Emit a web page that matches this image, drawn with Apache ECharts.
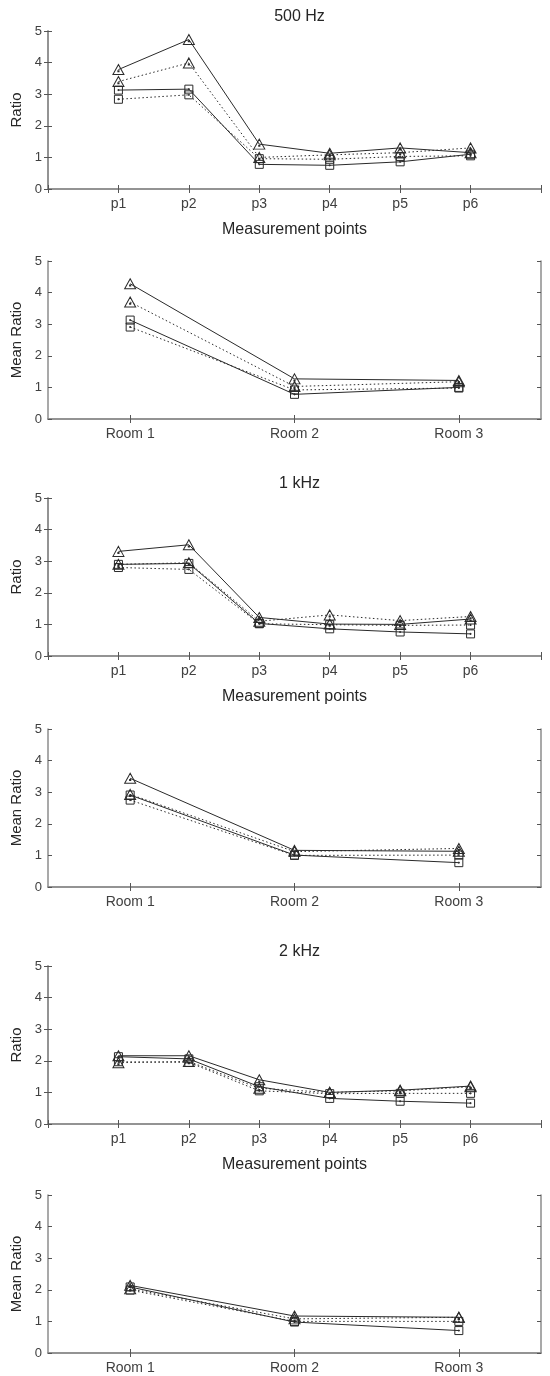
<!DOCTYPE html>
<html>
<head>
<meta charset="utf-8">
<script src="https://cdn.jsdelivr.net/npm/echarts@6/dist/echarts.min.js"></script>
<style>
html,body{margin:0;padding:0;background:#fff;}
#chart{width:550px;height:1376px;}
</style>
</head>
<body>
<div id="chart"></div>
<script>
// ---- categories / tick labels ----
const pLabels = ['p1', 'p2', 'p3', 'p4', 'p5', 'p6'];
const roomLabels = ['Room 1', 'Room 2', 'Room 3'];
const panelTitles = ['500 Hz', '', '1 kHz', '', '2 kHz', ''];

// ---- 500 Hz: ratio per measurement point ----
const hz500_solidTri = [3.78, 4.73, 1.42, 1.13, 1.30, 1.15];
const hz500_dotTri   = [3.40, 3.99, 1.00, 1.08, 1.15, 1.30];
const hz500_solidSq  = [3.13, 3.16, 0.78, 0.75, 0.86, 1.10];
const hz500_dotSq    = [2.84, 2.98, 0.96, 0.94, 1.03, 1.05];
// ---- 500 Hz: mean ratio per room ----
const hz500m_solidTri = [4.28, 1.27, 1.22];
const hz500m_dotTri   = [3.70, 1.03, 1.18];
const hz500m_solidSq  = [3.13, 0.78, 1.00];
const hz500m_dotSq    = [2.91, 0.92, 0.98];

// ---- 1 kHz ----
const k1_solidTri = [3.31, 3.52, 1.22, 1.01, 1.00, 1.17];
const k1_dotTri   = [2.90, 2.95, 1.10, 1.30, 1.12, 1.25];
const k1_solidSq  = [2.90, 2.93, 1.03, 0.86, 0.76, 0.70];
const k1_dotSq    = [2.80, 2.74, 1.02, 0.99, 0.97, 0.98];
const k1m_solidTri = [3.44, 1.16, 1.13];
const k1m_dotTri   = [2.93, 1.12, 1.22];
const k1m_solidSq  = [2.91, 1.01, 0.77];
const k1m_dotSq    = [2.75, 1.00, 1.01];

// ---- 2 kHz ----
const k2_solidTri = [2.16, 2.16, 1.40, 1.00, 1.07, 1.20];
const k2_dotTri   = [1.94, 1.98, 1.13, 1.00, 1.05, 1.18];
const k2_solidSq  = [2.13, 2.06, 1.18, 0.81, 0.72, 0.66];
const k2_dotSq    = [1.97, 1.95, 1.05, 0.96, 0.97, 0.97];
const k2m_solidTri = [2.14, 1.17, 1.13];
const k2m_dotTri   = [2.03, 1.08, 1.13];
const k2m_solidSq  = [2.09, 0.98, 0.71];
const k2m_dotSq    = [1.99, 1.00, 1.00];

const panels = [
  {kind: 'p',    yName: 'Ratio',      sets: [hz500_solidTri, hz500_dotTri, hz500_solidSq, hz500_dotSq]},
  {kind: 'room', yName: 'Mean Ratio', sets: [hz500m_solidTri, hz500m_dotTri, hz500m_solidSq, hz500m_dotSq]},
  {kind: 'p',    yName: 'Ratio',      sets: [k1_solidTri, k1_dotTri, k1_solidSq, k1_dotSq]},
  {kind: 'room', yName: 'Mean Ratio', sets: [k1m_solidTri, k1m_dotTri, k1m_solidSq, k1m_dotSq]},
  {kind: 'p',    yName: 'Ratio',      sets: [k2_solidTri, k2_dotTri, k2_solidSq, k2_dotSq]},
  {kind: 'room', yName: 'Mean Ratio', sets: [k2m_solidTri, k2m_dotTri, k2m_solidSq, k2m_dotSq]}
];

// ---- layout / style ----
const FONT = 'Liberation Sans, Arial, sans-serif';
const gridTops = [31, 261, 498, 729, 966, 1195];
const GL = 48, GW = 493, GH = 158;
const axisLineStyle = {show: true, lineStyle: {color: '#8c8c8c', width: 1.5}};
const tickStyle = {show: true, inside: true, length: 4, lineStyle: {color: '#555', width: 1}};
const xLabelStyle = {fontSize: 14, color: '#404040', fontFamily: FONT};
const yLabelStyle = {fontSize: 13, color: '#404040', fontFamily: FONT};

const TRI = 'path://M5 0 L10 9 L0 9 Z M4.5 5.5 L5.5 5.5 L5.5 6.5 L4.5 6.5 Z';
const SQ  = 'path://M0 0 L8 0 L8 8 L0 8 Z M3.5 3.5 L4.5 3.5 L4.5 4.5 L3.5 4.5 Z';
const styles = [
  {symbol: TRI, size: [11, 10], line: 'solid'},
  {symbol: TRI, size: [11, 10], line: [1.5, 2.5]},
  {symbol: SQ,  size: [8, 8],  line: 'solid'},
  {symbol: SQ,  size: [8, 8],  line: [1.5, 2.5]}
];

const grid = [], xAxis = [], yAxis = [], series = [], title = [];
panels.forEach((pn, i) => {
  grid.push({left: GL, width: GW, top: gridTops[i], height: GH});
  if (panelTitles[i]) {
    title.push({text: panelTitles[i], left: GL + GW / 2, top: gridTops[i] - 27, textAlign: 'center',
      textStyle: {fontSize: 16, fontWeight: 'normal', color: '#262626', fontFamily: FONT}});
  }
  const isP = pn.kind === 'p';
  const baseX = isP
    ? {type: 'value', min: 0, max: 7, interval: 1}
    : {type: 'category', data: roomLabels, boundaryGap: true};
  xAxis.push(Object.assign({}, baseX, {
    gridIndex: i, position: 'bottom',
    axisLine: axisLineStyle,
    axisTick: Object.assign({}, tickStyle, {alignWithLabel: true}),
    axisLabel: Object.assign({}, xLabelStyle, {margin: 8,
      formatter: isP ? (v => pLabels[v - 1] || '') : (v => v)}),
    splitLine: {show: false},
    name: isP ? 'Measurement points' : '',
    nameLocation: 'middle', nameGap: 33,
    nameTextStyle: {fontSize: 16, color: '#262626', fontFamily: FONT}
  }));
  xAxis.push(Object.assign({}, baseX, {
    gridIndex: i, position: 'top',
    axisLine: axisLineStyle,
    axisTick: Object.assign({}, tickStyle, {alignWithLabel: true}),
    axisLabel: {show: false}, splitLine: {show: false}
  }));
  yAxis.push({
    type: 'value', gridIndex: i, position: 'left', min: 0, max: 5, interval: 1,
    axisLine: axisLineStyle, axisTick: tickStyle,
    axisLabel: Object.assign({}, yLabelStyle, {margin: 6}),
    splitLine: {show: false},
    name: pn.yName, nameLocation: 'middle', nameGap: 18,
    nameTextStyle: {fontSize: 15, color: '#262626', fontFamily: FONT}
  });
  yAxis.push({
    type: 'value', gridIndex: i, position: 'right', min: 0, max: 5, interval: 1,
    axisLine: axisLineStyle, axisTick: tickStyle,
    axisLabel: {show: false}, splitLine: {show: false}
  });
  pn.sets.forEach((vals, k) => {
    const st = styles[k];
    series.push({
      type: 'line',
      xAxisIndex: i * 2, yAxisIndex: i * 2,
      data: isP ? vals.map((v, j) => [j + 1, v]) : vals,
      symbol: st.symbol, symbolSize: st.size, showAllSymbol: true,
      lineStyle: {color: '#2a2a2a', width: 1, type: st.line},
      itemStyle: {color: 'transparent', borderColor: '#2a2a2a', borderWidth: 1},
      emphasis: {disabled: true},
      z: 3
    });
  });
});

const chart = echarts.init(document.getElementById('chart'), null, {renderer: 'canvas'});
chart.setOption({
  animation: false,
  backgroundColor: '#ffffff',
  textStyle: {fontFamily: FONT},
  title, grid, xAxis, yAxis, series
});
</script>
</body>
</html>
